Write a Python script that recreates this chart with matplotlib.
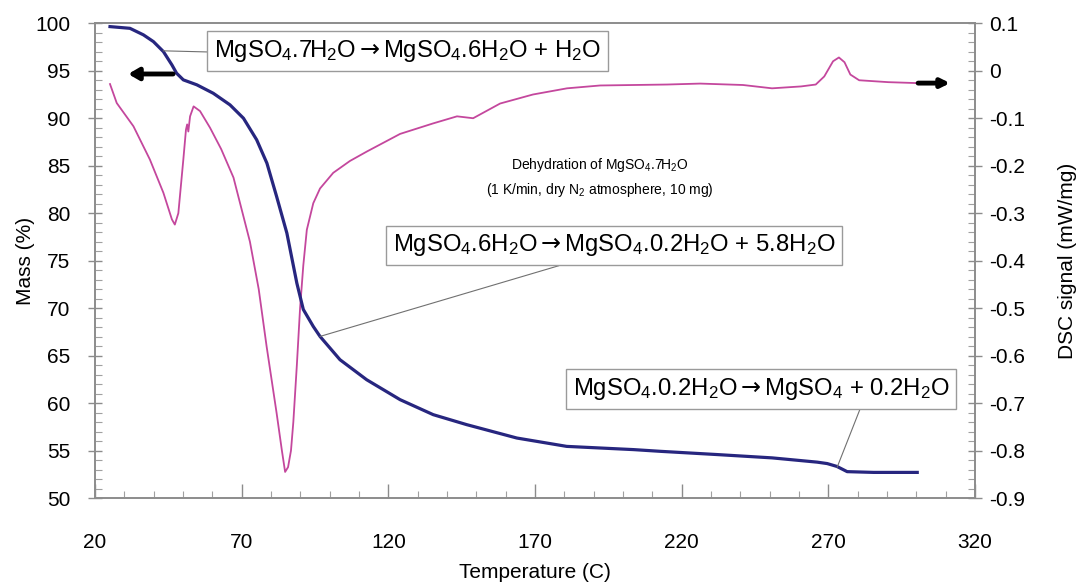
import numpy as np
import matplotlib
matplotlib.use("Agg")
import matplotlib.pyplot as plt
from matplotlib.ticker import MultipleLocator

plt.rcParams["font.family"] = ["Liberation Sans", "DejaVu Sans"]
plt.rcParams["mathtext.fontset"] = "custom"
plt.rcParams["mathtext.rm"] = "Liberation Sans"
plt.rcParams["mathtext.it"] = "Liberation Sans:italic"
plt.rcParams["mathtext.sf"] = "DejaVu Sans"

# mass loss (TGA), left axis
mass_T = [25.1, 31.9, 36.5, 39.9, 43.3, 46.2, 47.8, 50.1, 54.7, 60.3, 66.0,
          70.6, 75.1, 78.6, 81.9, 85.4, 88.8, 91.0, 94.4, 96.7, 103.5, 112.6,
          124.0, 135.3, 146.7, 163.8, 180.8, 203.6, 212.7, 232.0, 250.8,
          266.2, 269.6, 272.9, 276.4, 285.4, 300.3]
mass_pct = [99.65, 99.47, 98.78, 98.07, 97.02, 95.62, 94.74, 94.04, 93.52,
            92.63, 91.41, 90.0, 87.73, 85.26, 81.76, 77.9, 72.63, 69.86,
            68.07, 67.02, 64.57, 62.46, 60.36, 58.78, 57.73, 56.32, 55.44,
            55.1, 54.92, 54.58, 54.23, 53.78, 53.63, 53.33, 52.78, 52.7, 52.7]

# DSC signal, right axis
dsc_T = [25.1, 27.4, 33.1, 38.7, 43.3, 46.2, 47.2, 48.4, 50.1, 51.0, 51.4,
         51.8, 52.4, 53.6, 55.8, 59.2, 63.0, 67.2, 72.8, 75.8, 78.5, 81.9,
         83.7, 84.8, 85.8, 86.8, 87.6, 88.8, 89.9, 91.0, 92.2, 94.4, 96.7,
         101.2, 106.9, 112.7, 118.2, 124.0, 135.2, 143.4, 148.9, 158.1, 169.3,
         180.9, 192.2, 215.0, 226.3, 240.9, 250.8, 260.7, 265.7, 268.6, 271.6,
         273.6, 275.5, 277.5, 280.5, 290.4, 300.3]
dsc_sig = [-0.028, -0.068, -0.117, -0.187, -0.257, -0.313, -0.324, -0.300,
           -0.187, -0.124, -0.113, -0.128, -0.096, -0.075, -0.085, -0.120,
           -0.165, -0.225, -0.360, -0.460, -0.581, -0.721, -0.800, -0.845,
           -0.835, -0.800, -0.740, -0.620, -0.500, -0.410, -0.335, -0.279,
           -0.248, -0.215, -0.190, -0.170, -0.152, -0.133, -0.111, -0.096,
           -0.100, -0.069, -0.050, -0.037, -0.031, -0.029, -0.027, -0.030,
           -0.037, -0.033, -0.029, -0.012, 0.020, 0.028, 0.018, -0.008,
           -0.020, -0.024, -0.026]

temp_ticks = [20, 70, 120, 170, 220, 270, 320]

step_labels = [
    r"MgSO$_4$.7H$_2$O$\mathsf{\rightarrow}$MgSO$_4$.6H$_2$O + H$_2$O",
    r"MgSO$_4$.6H$_2$O$\mathsf{\rightarrow}$MgSO$_4$.0.2H$_2$O + 5.8H$_2$O",
    r"MgSO$_4$.0.2H$_2$O$\mathsf{\rightarrow}$MgSO$_4$ + 0.2H$_2$O",
]
# point on the mass curve, label centre, leader attach point on box
step_pts = [(43.2, 97.1), (96.7, 67.02), (273.0, 53.25)]
step_txt = [(126.5, 97.1), (197.0, 76.6), (247.1, 61.5)]
step_rel = [(0, 0.45), (0.43, 0), (0.77, 0)]

fig = plt.figure(figsize=(10.8, 5.88), dpi=100)
ax = fig.add_axes([0.088, 0.153, 0.8148, 0.8074])
ax2 = ax.twinx()

ax2.plot(dsc_T, dsc_sig, color="#c4479d", lw=1.3, zorder=2)
ax.plot(mass_T, mass_pct, color="#27267f", lw=2.3, zorder=3)
ax.set_zorder(ax2.get_zorder() + 1)
ax.patch.set_visible(False)

ax.set_xlim(20, 320)
ax.set_ylim(50, 100)
ax2.set_ylim(-0.9, 0.1)
ax.set_xticks(temp_ticks)
ax.xaxis.set_minor_locator(MultipleLocator(10))
ax.yaxis.set_major_locator(MultipleLocator(5))
ax.yaxis.set_minor_locator(MultipleLocator(1))
ax2.yaxis.set_major_locator(MultipleLocator(0.1))
ax2.yaxis.set_minor_locator(MultipleLocator(0.02))
ax2.yaxis.set_major_formatter(
    plt.FuncFormatter(lambda v, p: "0" if abs(v) < 1e-9 else f"{v:.1f}"))

for a in (ax, ax2):
    for s in a.spines.values():
        s.set_color("#8c8c8c")
        s.set_linewidth(1.2)
    a.tick_params(which="major", direction="inout", length=10, width=1,
                  color="#8c8c8c", labelsize=15, pad=5)
    a.tick_params(which="minor", direction="in", length=5, width=0.8,
                  color="#a0a0a0")
ax.tick_params(axis="y", which="major", pad=13)
ax.tick_params(axis="x", which="major", direction="in", pad=25)

ax.set_xlabel("Temperature (C)", fontsize=15, labelpad=8)
ax.set_ylabel("Mass (%)", fontsize=15, labelpad=0)
ax2.set_ylabel("DSC signal (mW/mg)", fontsize=15, labelpad=24)

for lab, pt, tx, rp in zip(step_labels, step_pts, step_txt, step_rel):
    ax.annotate(lab, xy=pt, xytext=tx, textcoords="data", fontsize=17.2,
                ha="center", va="center", zorder=5,
                bbox=dict(boxstyle="square,pad=0.28", fc="white", ec="#9a9a9a", lw=1),
                arrowprops=dict(arrowstyle="-", color="#707070", lw=0.8,
                                shrinkA=0, shrinkB=0, relpos=rp))

ax.text(192.2, 85.1, "Dehydration of MgSO$_4$.7H$_2$O", fontsize=10,
        ha="center", va="center")
ax.text(192.2, 82.45, "(1 K/min, dry N$_2$ atmosphere, 10 mg)", fontsize=10,
        ha="center", va="center")

# axis arrows
ax.annotate("", xy=(31.3, 94.66), xytext=(46.6, 94.66),
            arrowprops=dict(arrowstyle="-|>,head_length=0.6,head_width=0.35",
                            color="black", lw=3.5, shrinkA=0, shrinkB=0))
ax2.annotate("", xy=(311.5, -0.026), xytext=(300.6, -0.026),
             arrowprops=dict(arrowstyle="-|>,head_length=0.5,head_width=0.25",
                             color="black", lw=3.5, shrinkA=0, shrinkB=0))

fig.savefig("out.png", dpi=100)
